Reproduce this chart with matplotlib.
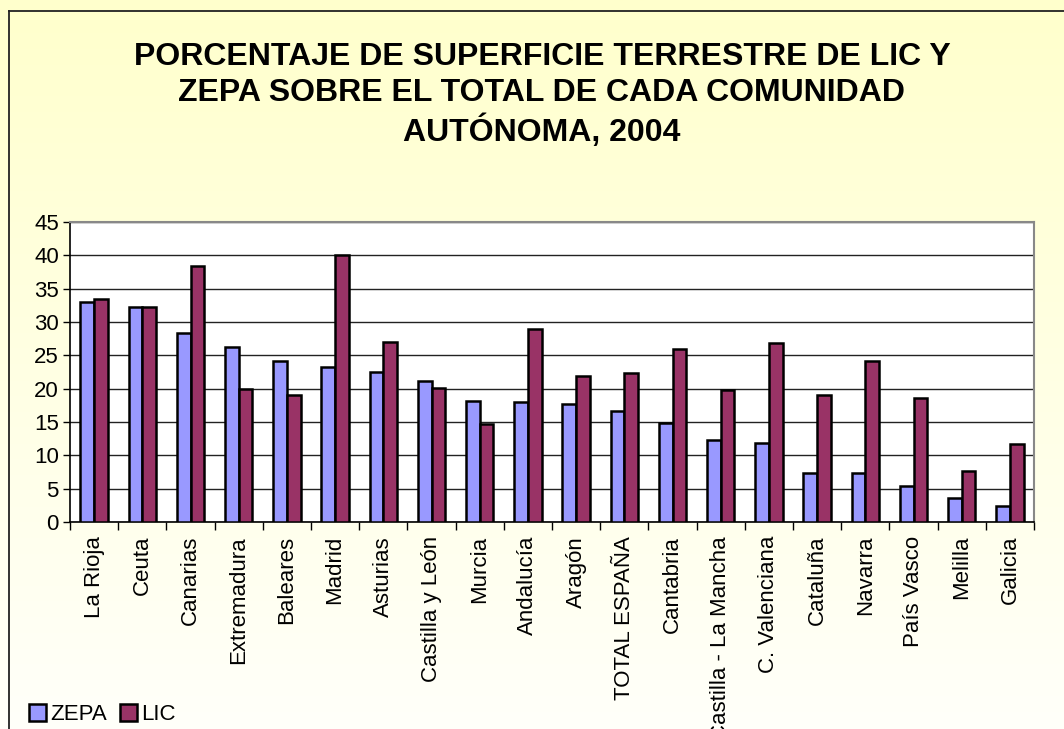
import numpy as np
import matplotlib
matplotlib.use('Agg')
import matplotlib.pyplot as plt
from matplotlib.lines import Line2D
from matplotlib.patches import Patch

plt.rcParams['font.family'] = ['Liberation Sans', 'DejaVu Sans']

# Datos
comunidades = ['La Rioja', 'Ceuta', 'Canarias', 'Extremadura', 'Baleares', 'Madrid',
               'Asturias', 'Castilla y León', 'Murcia', 'Andalucía', 'Aragón',
               'TOTAL ESPAÑA', 'Cantabria', 'Castilla - La Mancha', 'C. Valenciana',
               'Cataluña', 'Navarra', 'País Vasco', 'Melilla', 'Galicia']
zepa = [33.0, 32.3, 28.4, 26.3, 24.2, 23.3, 22.5, 21.2, 18.1, 18.0, 17.7,
        16.6, 14.9, 12.3, 11.9, 7.4, 7.4, 5.4, 3.6, 2.4]
lic = [33.4, 32.3, 38.4, 19.9, 19.0, 40.1, 27.0, 20.1, 14.7, 28.9, 21.9,
       22.3, 25.9, 19.8, 26.8, 19.1, 24.2, 18.6, 7.7, 11.7]

titulo = ('PORCENTAJE DE SUPERFICIE TERRESTRE DE LIC Y\n'
          'ZEPA SOBRE EL TOTAL DE CADA COMUNIDAD\n'
          'AUTÓNOMA, 2004')

W, H = 1064, 729
fig = plt.figure(figsize=(W / 100, H / 100), dpi=100)

# fondo degradado amarillo -> blanco
bg = fig.add_axes([0, 0, 1, 1], zorder=-10)
grad = np.linspace(0, 1, 256).reshape(-1, 1)
top = np.array([255, 255, 204]) / 255
bot = np.array([255, 255, 250]) / 255
img = top[None, None, :] * (1 - grad[:, :, None]) + bot[None, None, :] * grad[:, :, None]
bg.imshow(img, aspect='auto', extent=[0, 1, 0, 1])
bg.set_axis_off()

# marco del grafico
fig.add_artist(Line2D([9 / W, 9 / W], [0, 1 - 11 / H], color='#222222', lw=1.3,
                      transform=fig.transFigure))
fig.add_artist(Line2D([9 / W, 1], [1 - 11 / H, 1 - 11 / H], color='#222222', lw=1.3,
                      transform=fig.transFigure))

ax = fig.add_axes([70 / W, 1 - 522 / H, (1034 - 70) / W, 300 / H])
ax.set_facecolor('white')

x = np.arange(len(comunidades))
w = 0.286
ax.bar(x - w / 2, zepa, w, color='#9999FF', edgecolor='black', linewidth=1.8, zorder=3)
ax.bar(x + w / 2, lic, w, color='#993366', edgecolor='black', linewidth=1.8, zorder=3)

ax.set_xlim(-0.5, len(comunidades) - 0.5)
ax.set_ylim(0, 45)
ax.set_yticks(np.arange(0, 46, 5))
ax.yaxis.grid(True, color='#222222', linewidth=1.0, zorder=1)
ax.set_axisbelow(True)

ax.set_xticks(x)
ax.set_xticklabels(comunidades, rotation=90, fontsize=16, va='top', ha='center')
ax.tick_params(axis='x', length=0, pad=10)
ax.set_xticks(np.arange(-0.5, len(comunidades), 1), minor=True)
ax.tick_params(axis='x', which='minor', length=6, width=1, direction='out')
ax.tick_params(axis='y', labelsize=16, length=5, width=1, direction='out', pad=3)

for s in ['top', 'right']:
    ax.spines[s].set_color('#888888')
    ax.spines[s].set_linewidth(1.5)
for s in ['left', 'bottom']:
    ax.spines[s].set_color('black')
    ax.spines[s].set_linewidth(1.2)

fig.text(542 / W, 1 - 95 / H, titulo, ha='center', va='center', fontsize=23,
         fontweight='bold', linespacing=1.27)

handles = [Patch(facecolor='#9999FF', edgecolor='black', linewidth=1.8, label='ZEPA'),
           Patch(facecolor='#993366', edgecolor='black', linewidth=1.8, label='LIC')]
fig.legend(handles=handles, loc='lower left', bbox_to_anchor=(20 / W, -5 / H), ncol=2,
           frameon=False, fontsize=16, handlelength=0.75, handleheight=0.75,
           handletextpad=0.2, columnspacing=0.6, borderaxespad=0)

fig.savefig('out.png', dpi=100)
